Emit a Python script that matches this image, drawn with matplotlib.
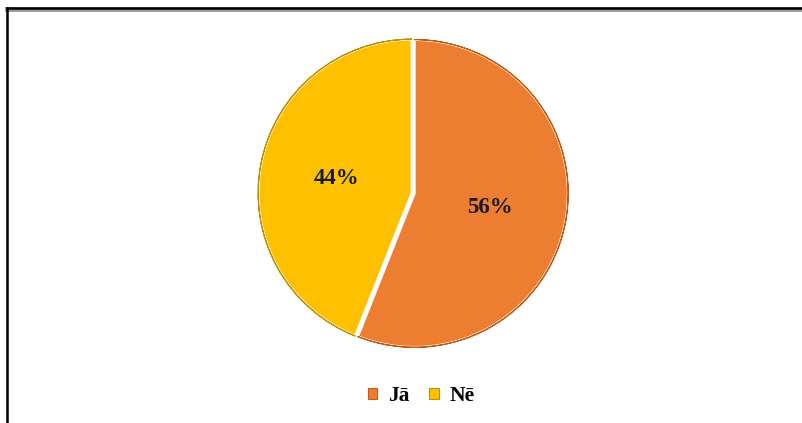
import matplotlib.pyplot as plt
from matplotlib.lines import Line2D
from matplotlib.patches import Patch, Wedge

labels = ["Jā", "Nē"]
values = [56, 44]
colors = ["#ED7D31", "#FFC000"]
edge_colors = ["#C55A11", "#BF9000"]

W, H = 802, 423
fig = plt.figure(figsize=(W / 100, H / 100), dpi=100)
fig.patch.set_facecolor("white")

cx, cy, r = 412, 193, 157
ax = fig.add_axes([(cx - r) / W, (H - cy - r) / H, 2 * r / W, 2 * r / H])

wedges, texts, autotexts = ax.pie(
    values,
    colors=colors,
    startangle=90,
    counterclock=False,
    explode=[0.015, 0],
    radius=0.98,
    autopct="%d%%",
    pctdistance=0.5,
    wedgeprops=dict(edgecolor="white", linewidth=2.0),
    textprops=dict(family="Liberation Serif", fontweight="bold", fontsize=16.5, color="#1a1a1a"),
)
ax.set_xlim(-1.0, 1.0)
ax.set_ylim(-1.0, 1.0)
ax.set_aspect("equal")
ax.axis("off")

# Thin darker outline on the outer arc of each slice
for w, ec in zip(wedges, edge_colors):
    ax.add_patch(Wedge(w.center, w.r, w.theta1, w.theta2, width=0.0001,
                       facecolor="none", edgecolor=ec, linewidth=0.8))

handles = [Patch(facecolor=c, edgecolor=e, linewidth=0.8) for c, e in zip(colors, edge_colors)]
fig.legend(handles, labels, loc="center", bbox_to_anchor=(421 / W, 1 - 396 / H),
           ncol=2, frameon=False, handlelength=0.45, handleheight=0.45, handletextpad=0.5,
           columnspacing=0.9, prop=dict(family="Liberation Serif", weight="bold", size=15.5))

# Frame lines along the top and left edges
fig.add_artist(Line2D([7 / W, 1], [1 - 9 / H, 1 - 9 / H], color="#9a9a9a", linewidth=3.5,
                      transform=fig.transFigure))
fig.add_artist(Line2D([7 / W, 1], [1 - 8.5 / H, 1 - 8.5 / H], color="black", linewidth=1.8,
                      transform=fig.transFigure))
fig.add_artist(Line2D([7 / W, 7 / W], [0, 1 - 8.5 / H], color="black", linewidth=1.8,
                      transform=fig.transFigure))

fig.savefig("out.png", dpi=100, facecolor="white")
